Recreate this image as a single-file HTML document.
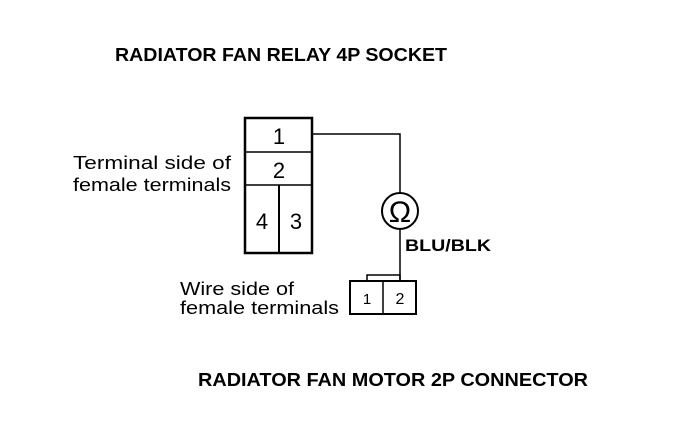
<!DOCTYPE html>
<html><head><style>html,body{margin:0;padding:0;background:#fff}svg{display:block}</style></head>
<body>
<svg width="688" height="428" viewBox="0 0 688 428" xmlns="http://www.w3.org/2000/svg" font-family="Liberation Sans, Arial, sans-serif">
<rect width="688" height="428" fill="#fff"/>
<text x="115" y="61" font-size="18" font-weight="bold" textLength="332" lengthAdjust="spacingAndGlyphs">RADIATOR FAN RELAY 4P SOCKET</text>
<text x="73" y="169" font-size="18" textLength="158" lengthAdjust="spacingAndGlyphs">Terminal side of</text>
<text x="73" y="191" font-size="18" textLength="158" lengthAdjust="spacingAndGlyphs">female terminals</text>
<g stroke="#000" fill="none">
<rect x="245" y="118" width="67" height="135" stroke-width="2.5"/>
<line x1="245" y1="152" x2="312" y2="152" stroke-width="1.5"/>
<line x1="245" y1="185" x2="312" y2="185" stroke-width="1.5"/>
<line x1="279" y1="185" x2="279" y2="253" stroke-width="2"/>
<polyline points="312,134 400,134 400,193" stroke-width="1.5"/>
<circle cx="400" cy="211" r="18" stroke-width="2"/>
<line x1="400" y1="229" x2="400" y2="281" stroke-width="1.5"/>
<rect x="367" y="275" width="33" height="6" stroke-width="1.5"/>
<rect x="350" y="281" width="66" height="33" stroke-width="2"/>
<line x1="383" y1="281" x2="383" y2="314" stroke-width="1.5"/>
</g>
<g font-size="22" text-anchor="middle">
<text x="279" y="144">1</text>
<text x="279" y="178">2</text>
<text x="262" y="229">4</text>
<text x="296" y="229">3</text>
</g>
<text x="400" y="222" font-size="30" text-anchor="middle">Ω</text>
<text x="405" y="251" font-size="17" font-weight="bold" textLength="86" lengthAdjust="spacingAndGlyphs">BLU/BLK</text>
<text x="180" y="295" font-size="18" textLength="114" lengthAdjust="spacingAndGlyphs">Wire side of</text>
<text x="180" y="314" font-size="18" textLength="159" lengthAdjust="spacingAndGlyphs">female terminals</text>
<text x="367" y="304" font-size="15" text-anchor="middle">1</text>
<text x="400" y="304" font-size="16" text-anchor="middle">2</text>
<text x="198" y="386" font-size="18" font-weight="bold" textLength="390" lengthAdjust="spacingAndGlyphs">RADIATOR FAN MOTOR 2P CONNECTOR</text>
</svg>
</body></html>
